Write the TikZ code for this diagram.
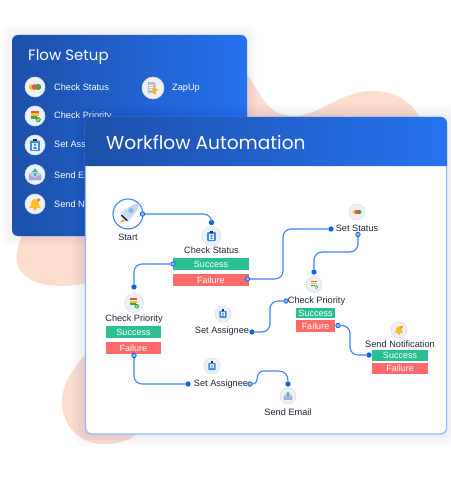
\documentclass[tikz,border=0pt]{standalone}
\usepackage{fontspec}
\setmainfont{Liberation Sans}
\newfontfamily\headfont{Poppins}
\usetikzlibrary{calc}
\definecolor{wirec}{HTML}{3F83F4}
\definecolor{dotc}{HTML}{0F62F0}
\definecolor{peach}{HTML}{FBDDCE}
\definecolor{pdark}{HTML}{1D50AA}
\definecolor{plight}{HTML}{2672EE}
\definecolor{ibg}{HTML}{EDF1F7}
\definecolor{iln}{HTML}{D7E0EC}
\definecolor{lbl}{HTML}{1F2A3C}
\definecolor{okc}{HTML}{2BBF94}
\definecolor{failc}{HTML}{FF6B6B}
\definecolor{bordc}{HTML}{92BBFF}
\definecolor{iblue}{HTML}{3D8BE8}
\definecolor{igreen}{HTML}{3CA845}
\definecolor{iyel}{HTML}{FBBF24}
\definecolor{ired}{HTML}{F0533F}
\definecolor{rbody}{HTML}{CAD9F2}
\definecolor{rfin}{HTML}{DDE6F6}
\definecolor{rwin}{HTML}{8FB6EE}
\definecolor{envb}{HTML}{C9C6EE}
\definecolor{envf}{HTML}{A9A4E6}
\tikzset{
  x=1pt,y=-1pt,
  wire/.style={draw=wirec,line width=1.1pt,rounded corners=8pt},
  dotn/.style={circle,fill=dotc,inner sep=0pt,minimum size=5.4pt},
  portn/.style={circle,fill=bordc,draw=dotc,line width=.8pt,inner sep=0pt,minimum size=4.4pt},
  lab/.style={text=lbl,font=\fontsize{9.2}{11}\selectfont,inner sep=0pt},
  side/.style={text=white,font=\fontsize{9.2}{11}\selectfont,inner sep=0pt,anchor=west},
  okbox/.style={fill=okc,text=white,inner sep=0pt,font=\fontsize{9}{11}\selectfont},
  failbox/.style={fill=failc,text=white,inner sep=0pt,font=\fontsize{9}{11}\selectfont},
  ibase/.style={circle,fill=ibg,draw=iln,line width=.6pt,inner sep=0pt},
  pics/traffic/.style={code={
    \fill[iyel] (-4,0) circle (3);
    \fill[igreen] (3.6,0) circle (3.4);
    \fill[ired] (-.4,0) circle (3.2);
  }},
  pics/listicon/.style={code={
    \fill[ired] (-5,-6) rectangle (4,-3.6);
    \fill[iyel] (-5,-2.8) rectangle (4,-.4);
    \fill[igreen] (-5,.4) rectangle (2,2.8);
    \fill[igreen] (3.6,4) circle (2.9);
    \draw[white,line width=.6pt] (2.2,4) -- (3.2,5) -- (5,3);
  }},
  pics/assign/.style={code={
    \fill[iblue,rounded corners=.8pt] (-5.5,-5) rectangle (5.5,6.5);
    \fill[lbl] (-2.2,-7) rectangle (2.2,-4);
    \fill[white!85!iblue] (-3.6,-2.5) rectangle (3.6,5);
    \fill[iblue] (0,-.3) circle (1.6);
    \fill[iblue] (-2.4,4) .. controls (-2.4,1) and (2.4,1) .. (2.4,4) -- cycle;
  }},
  pics/envelope/.style={code={
    \fill[envb] (-6.5,-1) -- (0,-4) -- (6.5,-1) -- (6.5,6) -- (-6.5,6) -- cycle;
    \fill[okc] (-1.3,-2) rectangle (1.3,2);
    \fill[okc] (-3.4,-2.5) -- (0,-6.5) -- (3.4,-2.5) -- cycle;
    \fill[envf] (-6.5,0) -- (0,3.5) -- (6.5,0) -- (6.5,6) -- (-6.5,6) -- cycle;
  }},
  pics/bellicon/.style={code={
    \fill[iyel] (-6.5,4.5) .. controls (-4,3) and (-4.5,-1) .. (-4,-2.5) .. controls (-2.8,-6.5) and (2.8,-6.5) .. (4,-2.5) .. controls (4.5,-1) and (4,3) .. (6.5,4.5) -- cycle;
    \fill[iyel!80!ired] (0,5.5) circle (1.8);
    \fill[ired!80!white] (4,-4.5) circle (2.1);
  }},
  pics/docicon/.style={code={
    \fill[black!25] (-6,-7) -- (1,-7) -- (3,-5) -- (3,6) -- (-6,6) -- cycle;
    \fill[white] (-4.5,-4) rectangle (0,-3);
    \fill[white] (-4.5,-1.5) rectangle (0,-.5);
    \fill[white] (-4.5,1) rectangle (0,2);
    \fill[iyel!85!ired] (2,-1) -- (6,3) -- (3.5,3) -- (3.5,7) -- (.5,7) -- (.5,3) -- (-2,3) -- cycle;
  }},
  pics/rocket/.style={code={
    \fill[orange!80!white] (-6,6) -- (-10,10) -- (-3,8.5) -- cycle;
    \fill[rfin] (-10,-1) -- (-3,-7) -- (1,-2) -- (-5,2) -- cycle;
    \fill[rfin] (1,10) -- (6,2) -- (1,-1) -- (-2,5) -- cycle;
    \fill[rbody] (-6.5,3) .. controls (-4,-6) and (3,-12) .. (12,-12) .. controls (12,-3) and (6,4) .. (-2,7) -- cycle;
    \fill[rwin] (3.5,-4) circle (3);
    \fill[lbl] (-8.5,2) -- (-7.2,.7) -- (-.2,7.3) -- (-1.5,8.6) -- cycle;
  }}
}
\begin{document}
\begin{tikzpicture}
\useasboundingbox[fill=white] (0,0) rectangle (450,500);
% peach blobs behind the panels
\fill[peach] (247,75) .. controls (258,85) and (262,115) .. (293,116) .. controls (320,116) and (340,91) .. (372,91) .. controls (395,91) and (410,100) .. (420,118) -- (247,118) -- cycle;
\fill[peach] (24,230) .. controls (18,245) and (14,258) .. (18,266) .. controls (26,284) and (50,290) .. (90,283) -- (90,230) -- cycle;
\fill[peach] (90,350) .. controls (72,368) and (62,385) .. (62,402) .. controls (62,428) and (82,444) .. (103,444) .. controls (120,444) and (133,440) .. (140,430) -- (90,420) -- cycle;
% back panel
\foreach \g in {10,8,6,4,2}{
  \fill[blue!55!black,opacity=.012,rounded corners=9pt] (12-\g,35-\g) rectangle (247+\g,236+\g);
}
\shade[left color=pdark,right color=plight,rounded corners=6pt] (12,35) rectangle (247,236);
\node[text=white,anchor=west,inner sep=0pt,font=\headfont\fontsize{15}{17}\selectfont] (flowtitle) at (28,57) {Flow Setup};
\node[ibase,minimum size=20pt] (s1) at (35,87) {};
\node[ibase,minimum size=20pt] (s2) at (35,116) {};
\node[ibase,minimum size=20pt] (s3) at (35,145) {};
\node[ibase,minimum size=20pt] (s4) at (35,174.5) {};
\node[ibase,minimum size=20pt] (s5) at (35,204) {};
\node[ibase,minimum size=22pt] (s6) at (153,88) {};
\pic[scale=.9] at (s1) {traffic};
\pic[scale=.9] at (s2) {listicon};
\pic[scale=.9] at (s3) {assign};
\pic[scale=.95] at (s4) {envelope};
\pic[scale=.9] at (s5) {bellicon};
\pic[scale=.85] at (s6) {docicon};
\node[side] (t1) at (54,87.5) {Check Status};
\node[side] (t2) at (54,116.5) {Check Priority};
\node[side] (t3) at (54,145.5) {Set Assignee};
\node[side] (t4) at (54,175) {Send Email};
\node[side] (t5) at (54,204.5) {Send Notification};
\node[side] (t6) at (172,88.5) {ZapUp};
% front panel
\foreach \g in {12,10,8,6,4,2}{
  \fill[blue!55!black,opacity=.012,rounded corners=9pt] (85-\g,117-\g) rectangle (447+\g,434+\g);
}
\filldraw[fill=white,draw=bordc,line width=1.3pt,rounded corners=6pt] (85.5,117.5) rectangle (446.5,434);
\shade[left color=pdark,right color=plight] (85,166) -- (85,123) .. controls (85,119.7) and (88,117) .. (91,117) -- (441,117) .. controls (444.3,117) and (447,120) .. (447,123) -- (447,166) -- cycle;
\node[text=white,anchor=west,inner sep=0pt,font=\headfont\fontsize{18.6}{20}\selectfont] (wftitle) at (106,142) {Workflow Automation};
% workflow nodes
\node[circle,draw=wirec,fill=white,line width=1.1pt,minimum size=30pt,inner sep=0pt] (start) at (128,214) {};
\pic[scale=.85] at (start) {rocket};
\node[lab] (startl) at (128,237) {Start};
\node[portn] (startp) at (142.5,214) {};

\node[dotn] (csd) at (211.5,222.5) {};
\node[ibase,minimum size=19pt] (csi) at (211.5,236) {};
\pic[scale=.78] at (csi) {assign};
\node[lab] (csl) at (211.5,250) {Check Status};
\node[okbox,minimum width=76pt,minimum height=12pt] (css) at (211,264) {Success};
\node[failbox,minimum width=76pt,minimum height=12pt] (csf) at (211,280) {Failure};
\node[portn] (cssp) at (173,264) {};
\node[portn] (csfp) at (247.5,279) {};

\node[dotn] (cpd) at (134,287) {};
\node[ibase,minimum size=19pt] (cpi) at (134,303) {};
\pic[scale=.8] at (cpi) {listicon};
\node[lab] (cpl) at (134,319) {Check Priority};
\node[okbox,minimum width=55pt,minimum height=12pt] (cps) at (133.5,332) {Success};
\node[failbox,minimum width=55pt,minimum height=12pt] (cpf) at (133.5,348) {Failure};
\node[portn] (cpp) at (134,355.5) {};

\node[dotn] (sad) at (188,384) {};
\node[ibase,minimum size=16pt] (sai) at (212,366) {};
\pic[scale=.65] at (sai) {assign};
\node[lab] (sal) at (221,384) {Set Assignee};
\node[portn] (sap) at (250,384) {};

\node[dotn] (sed) at (288,384) {};
\node[ibase,minimum size=16pt] (sei) at (288,396) {};
\pic[scale=.65] at (sei) {envelope};
\node[lab] (sel) at (288,412.5) {Send Email};

\node[ibase,minimum size=16pt] (bai) at (223,314) {};
\pic[scale=.65] at (bai) {assign};
\node[lab] (bal) at (222,331.5) {Set Assignee};
\node[dotn] (bad) at (252,332) {};

\node[portn] (rpp) at (286,301) {};
\node[dotn] (rpd) at (314,272) {};
\node[ibase,minimum size=16pt] (rpi) at (314,284.5) {};
\pic[scale=.65] at (rpi) {listicon};
\node[lab] (rpl) at (316.5,301) {Check Priority};
\node[okbox,minimum width=39pt,minimum height=10.5pt] (rps) at (315.5,313) {Success};
\node[failbox,minimum width=39pt,minimum height=12pt] (rpf) at (315.5,326) {Failure};
\node[portn] (rpfp) at (338,325.5) {};

\node[dotn] (ssd) at (331,229) {};
\node[ibase,minimum size=16pt] (ssi) at (357,212) {};
\pic[scale=.65] at (ssi) {traffic};
\node[lab] (ssl) at (357,228) {Set Status};
\node[portn] (ssp) at (358,234.5) {};

\node[dotn] (snd) at (369,355) {};
\node[ibase,minimum size=16pt] (sni) at (399,330) {};
\pic[scale=.68] at (sni) {bellicon};
\node[lab] (snl) at (400,344) {Send Notification};
\node[okbox,minimum width=56pt,minimum height=11pt] (sns) at (400,355.5) {Success};
\node[failbox,minimum width=56pt,minimum height=11pt] (snf) at (400,368) {Failure};
% bends
\coordinate (b1) at (283,250);
\coordinate (b2) at (314,252);
\coordinate (b3) at (270,315);
\coordinate (b4) at (350,340);
\coordinate (b5) at (264,371);
\coordinate (b6) at (278,371);
% connectors
\draw[wire] (startp) -| (csd);
\draw[wire] (cssp) -| (cpd);
\draw[wire] (csfp) -| (b1) |- (ssd);
\draw[wire] (ssp) |- (b2) -- (rpd);
\draw[wire] (bad) -| (b3) |- (rpp);
\draw[wire] (rpfp) -| (b4) |- (snd);
\draw[wire] (cpp) |- (sad);
\draw[draw=wirec,line width=1.1pt] (sap) .. controls (260,384) and (254,371) .. (b5) -- (b6) .. controls (285,371) and (288,375) .. (sed);
\end{tikzpicture}
\end{document}
